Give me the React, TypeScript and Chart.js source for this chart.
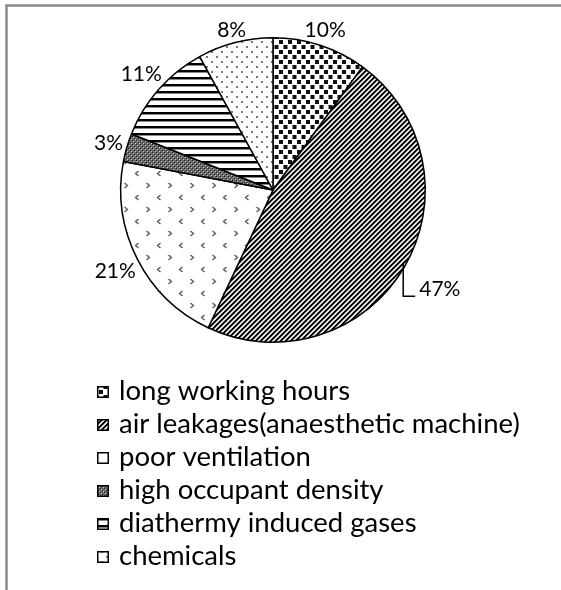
import { useEffect, useRef } from 'react';
import { Chart, registerables } from 'chart.js';

Chart.register(...registerables);

const categories = [
  'long working hours',
  'air leakages(anaesthetic machine)',
  'poor ventilation',
  'high occupant density',
  'diathermy induced gases',
  'chemicals',
];
const values = [10, 47, 21, 3, 11, 8];
const fillPatterns = ['squares', 'diagonal', 'chevrons', 'checker', 'hstripes', 'dots'];

function makePattern(kind: string): CanvasPattern | string {
  const c = document.createElement('canvas');
  const g = c.getContext('2d')!;
  const px = (x: number, y: number, col: string, w = 1, h = 1) => {
    g.fillStyle = col;
    g.fillRect(x, y, w, h);
  };
  switch (kind) {
    case 'squares':
      c.width = 9; c.height = 10;
      px(0, 0, '#fff', 9, 10);
      px(0, 0, '#111', 4, 4);
      px(4.5, 5, '#111', 4, 4);
      break;
    case 'diagonal':
      c.width = 5; c.height = 5;
      for (let x = 0; x < 5; x++) for (let y = 0; y < 5; y++) {
        const k = (x + y) % 5;
        px(x, y, k < 2 ? '#000' : k === 2 ? '#808080' : k === 4 ? '#c0c0c0' : '#fff');
      }
      break;
    case 'chevrons': {
      c.width = 22; c.height = 24;
      px(0, 0, '#fff', 22, 24);
      g.strokeStyle = '#555';
      g.lineWidth = 1.3;
      const lt = (ox: number, oy: number) => {
        g.beginPath(); g.moveTo(ox + 3, oy); g.lineTo(ox, oy + 2.5); g.lineTo(ox + 3, oy + 5); g.stroke();
      };
      const gt = (ox: number, oy: number) => {
        g.beginPath(); g.moveTo(ox, oy); g.lineTo(ox + 3, oy + 2.5); g.lineTo(ox, oy + 5); g.stroke();
      };
      lt(3.5, 3); gt(14.5, 15);
      break;
    }
    case 'checker':
      c.width = 4; c.height = 4;
      px(0, 0, '#666', 4, 4);
      px(0, 0, '#222'); px(2, 2, '#222'); px(1, 1, '#ccc'); px(3, 3, '#ccc');
      break;
    case 'hstripes':
      c.width = 4; c.height = 7;
      px(0, 0, '#fff', 4, 7);
      px(0, 0, '#000', 4, 2);
      px(0, 2, '#888', 4, 1);
      break;
    case 'dots':
      c.width = 10; c.height = 10;
      px(0, 0, '#fff', 10, 10);
      px(1, 1, '#777', 2, 2);
      px(6, 6, '#777', 2, 2);
      break;
    default:
      return '#fff';
  }
  return g.createPattern(c, 'repeat')!;
}

const framePlugin = {
  id: 'frame',
  beforeDraw(chart: any) {
    const ctx = chart.ctx as CanvasRenderingContext2D;
    ctx.save();
    ctx.fillStyle = '#fff';
    ctx.fillRect(0, 0, chart.width, chart.height);
    ctx.strokeStyle = '#8a8a8a';
    ctx.lineWidth = 2.5;
    ctx.beginPath();
    ctx.moveTo(6.5, chart.height);
    ctx.lineTo(6.5, 5.5);
    ctx.lineTo(chart.width, 5.5);
    ctx.stroke();
    ctx.restore();
  },
};

const pieLabelsPlugin = {
  id: 'pieLabels',
  afterDatasetsDraw(chart: any, _args: any, opts: any) {
    const ctx = chart.ctx as CanvasRenderingContext2D;
    const meta = chart.getDatasetMeta(0);
    const data = chart.data.datasets[0].data as number[];
    const total = data.reduce((a, b) => a + b, 0);
    ctx.save();
    ctx.font = opts.font;
    ctx.fillStyle = '#000';
    ctx.strokeStyle = '#000';
    ctx.lineWidth = 1.5;
    ctx.textAlign = 'center';
    ctx.textBaseline = 'alphabetic';
    meta.data.forEach((arc: any, i: number) => {
      const p = arc.getProps(['x', 'y', 'startAngle', 'endAngle', 'outerRadius'], true);
      const mid = (p.startAngle + p.endAngle) / 2;
      const text = Math.round((data[i] / total) * 100) + '%';
      const hw = ctx.measureText(text).width / 2;
      const hh = opts.capHeight / 2;
      const cx = Math.cos(mid);
      const sy = Math.sin(mid);
      const extra = (opts.extra && opts.extra[i]) || 0;
      const d = p.outerRadius + opts.gap + extra + Math.abs(cx) * hw + Math.abs(sy) * hh;
      const lx = p.x + cx * d;
      const ly = p.y + sy * d;
      const base = ly + hh;
      ctx.fillText(text, lx, base);
      if (extra > 0) {
        const left = lx - hw;
        const vx = left - 16;
        const dx = vx - p.x;
        const dy = Math.sqrt(Math.max(0, p.outerRadius * p.outerRadius - dx * dx));
        const topY = p.y + (sy >= 0 ? dy : -dy) - 6;
        ctx.beginPath();
        ctx.moveTo(vx, topY);
        ctx.lineTo(vx, base);
        ctx.lineTo(left - 4, base);
        ctx.stroke();
      }
    });
    ctx.restore();
  },
};

const legendPlugin = {
  id: 'patternLegend',
  afterDraw(chart: any, _args: any, opts: any) {
    const ctx = chart.ctx as CanvasRenderingContext2D;
    const ds = chart.data.datasets[0];
    ctx.save();
    ctx.font = opts.font;
    ctx.textAlign = 'left';
    ctx.textBaseline = 'alphabetic';
    (chart.data.labels as string[]).forEach((label, i) => {
      const base = opts.top + i * opts.lineHeight;
      const bx = opts.x;
      const by = base - 14;
      ctx.fillStyle = ds.backgroundColor[i];
      ctx.fillRect(bx, by, 12, 12);
      ctx.strokeStyle = '#000';
      ctx.lineWidth = 1.5;
      ctx.strokeRect(bx + 0.75, by + 0.75, 10.5, 10.5);
      ctx.fillStyle = '#000';
      ctx.fillText(label, bx + 22, base);
    });
    ctx.restore();
  },
};

export default function App() {
  const ref = useRef<HTMLCanvasElement | null>(null);
  useEffect(() => {
    if (!ref.current) return;
    const chart = new Chart(ref.current, {
      type: 'pie',
      data: {
        labels: categories,
        datasets: [
          {
            data: values,
            backgroundColor: fillPatterns.map(makePattern) as any,
            borderColor: '#000',
            borderWidth: 1.5,
            hoverOffset: 0,
            hoverBorderWidth: 1.5,
          },
        ],
      },
      options: {
        responsive: false,
        animation: false,
        events: [],
        layout: { padding: { left: 120, right: 135, top: 37, bottom: 247 } },
        plugins: {
          legend: { display: false },
          tooltip: { enabled: false },
          pieLabels: { font: '21px Lato', capHeight: 15, gap: 3, extra: [0, 17, 0, 0, 0, 0] },
          patternLegend: { font: '27.5px Lato', x: 97, top: 400, lineHeight: 33 },
        } as any,
      },
      plugins: [framePlugin, pieLabelsPlugin, legendPlugin],
    });
    return () => chart.destroy();
  }, []);
  return (
    <div style={{ position: 'absolute', left: 0, top: 0, width: 561, height: 590 }}>
      <canvas ref={ref} width={561} height={590} style={{ display: 'block' }} />
    </div>
  );
}
